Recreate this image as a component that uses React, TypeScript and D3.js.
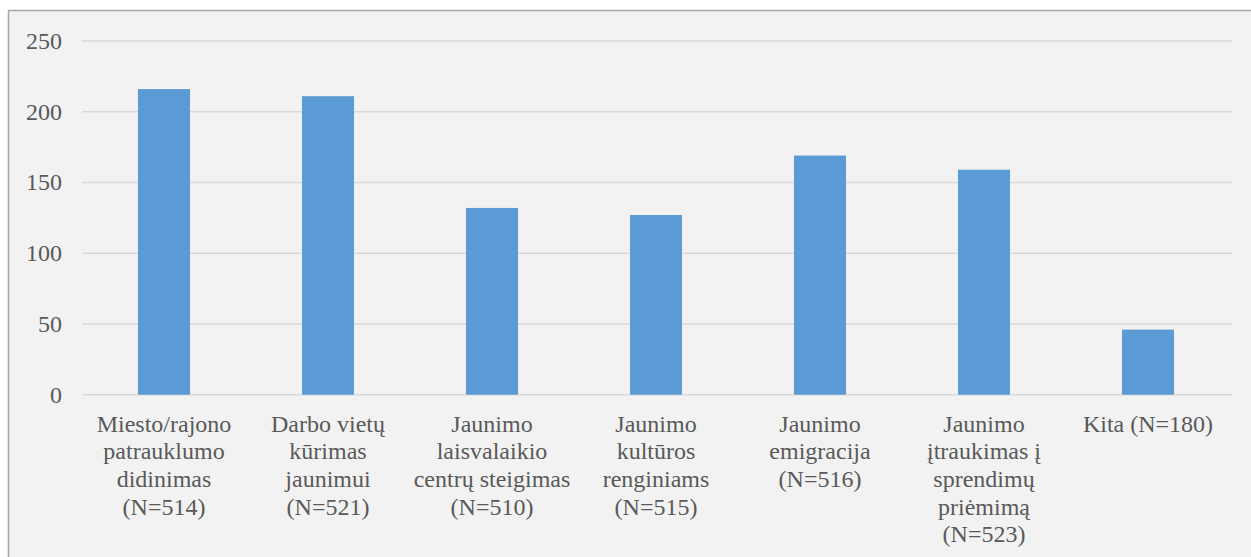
import React from "react";
import * as d3 from "d3";

const categories: string[][] = [
  ["Miesto/rajono", "patrauklumo", "didinimas", "(N=514)"],
  ["Darbo vietų", "kūrimas", "jaunimui", "(N=521)"],
  ["Jaunimo", "laisvalaikio", "centrų steigimas", "(N=510)"],
  ["Jaunimo", "kultūros", "renginiams", "(N=515)"],
  ["Jaunimo", "emigracija", "(N=516)"],
  ["Jaunimo", "įtraukimas į", "sprendimų", "priėmimą", "(N=523)"],
  ["Kita (N=180)"],
];
const values: number[] = [216, 211, 132, 127, 169, 159, 46];
const yTicks: number[] = [0, 50, 100, 150, 200, 250];

const W = 1251;
const H = 557;
const plotLeft = 82;
const plotRight = 1230;
const plotTop = 41;
const plotBottom = 394.7;
const textStyle = { fontFamily: "Liberation Serif" };
const textColor = "#595959";

export default function App() {
  const x = d3
    .scaleBand<number>()
    .domain(d3.range(values.length))
    .range([plotLeft, plotRight])
    .paddingInner(0.683)
    .paddingOuter(0.3415);
  const y = d3.scaleLinear().domain([0, 250]).range([plotBottom, plotTop]);

  return (
    <svg
      width={W}
      height={H}
      style={{ position: "absolute", left: 0, top: 0, overflow: "hidden" }}
    >
      <rect x={0} y={0} width={W} height={H} fill="#ffffff" />
      <rect
        x={8.5}
        y={10.5}
        width={W + 20}
        height={H + 20}
        fill="#f2f2f2"
        stroke="#a6a6a6"
        strokeWidth={1.5}
      />
      {yTicks.map((t) => (
        <g key={t}>
          <line
            x1={plotLeft}
            x2={plotRight + 2}
            y1={y(t)}
            y2={y(t)}
            stroke="#d9d9d9"
            strokeWidth={1.5}
          />
          <text
            x={62}
            y={y(t) + 8}
            textAnchor="end"
            style={textStyle}
            fontSize={24}
            fill={textColor}
          >
            {t}
          </text>
        </g>
      ))}
      {values.map((v, i) => (
        <rect
          key={i}
          x={x(i)!}
          y={y(v)}
          width={x.bandwidth()}
          height={y(0) - y(v)}
          fill="#5b9bd5"
        />
      ))}
      {categories.map((lines, i) => (
        <text
          key={i}
          x={x(i)! + x.bandwidth() / 2}
          y={plotBottom + 37}
          textAnchor="middle"
          style={textStyle}
          fontSize={24}
          fill={textColor}
        >
          {lines.map((l, j) => (
            <tspan key={j} x={x(i)! + x.bandwidth() / 2} dy={j === 0 ? 0 : 27.6}>
              {l}
            </tspan>
          ))}
        </text>
      ))}
    </svg>
  );
}
